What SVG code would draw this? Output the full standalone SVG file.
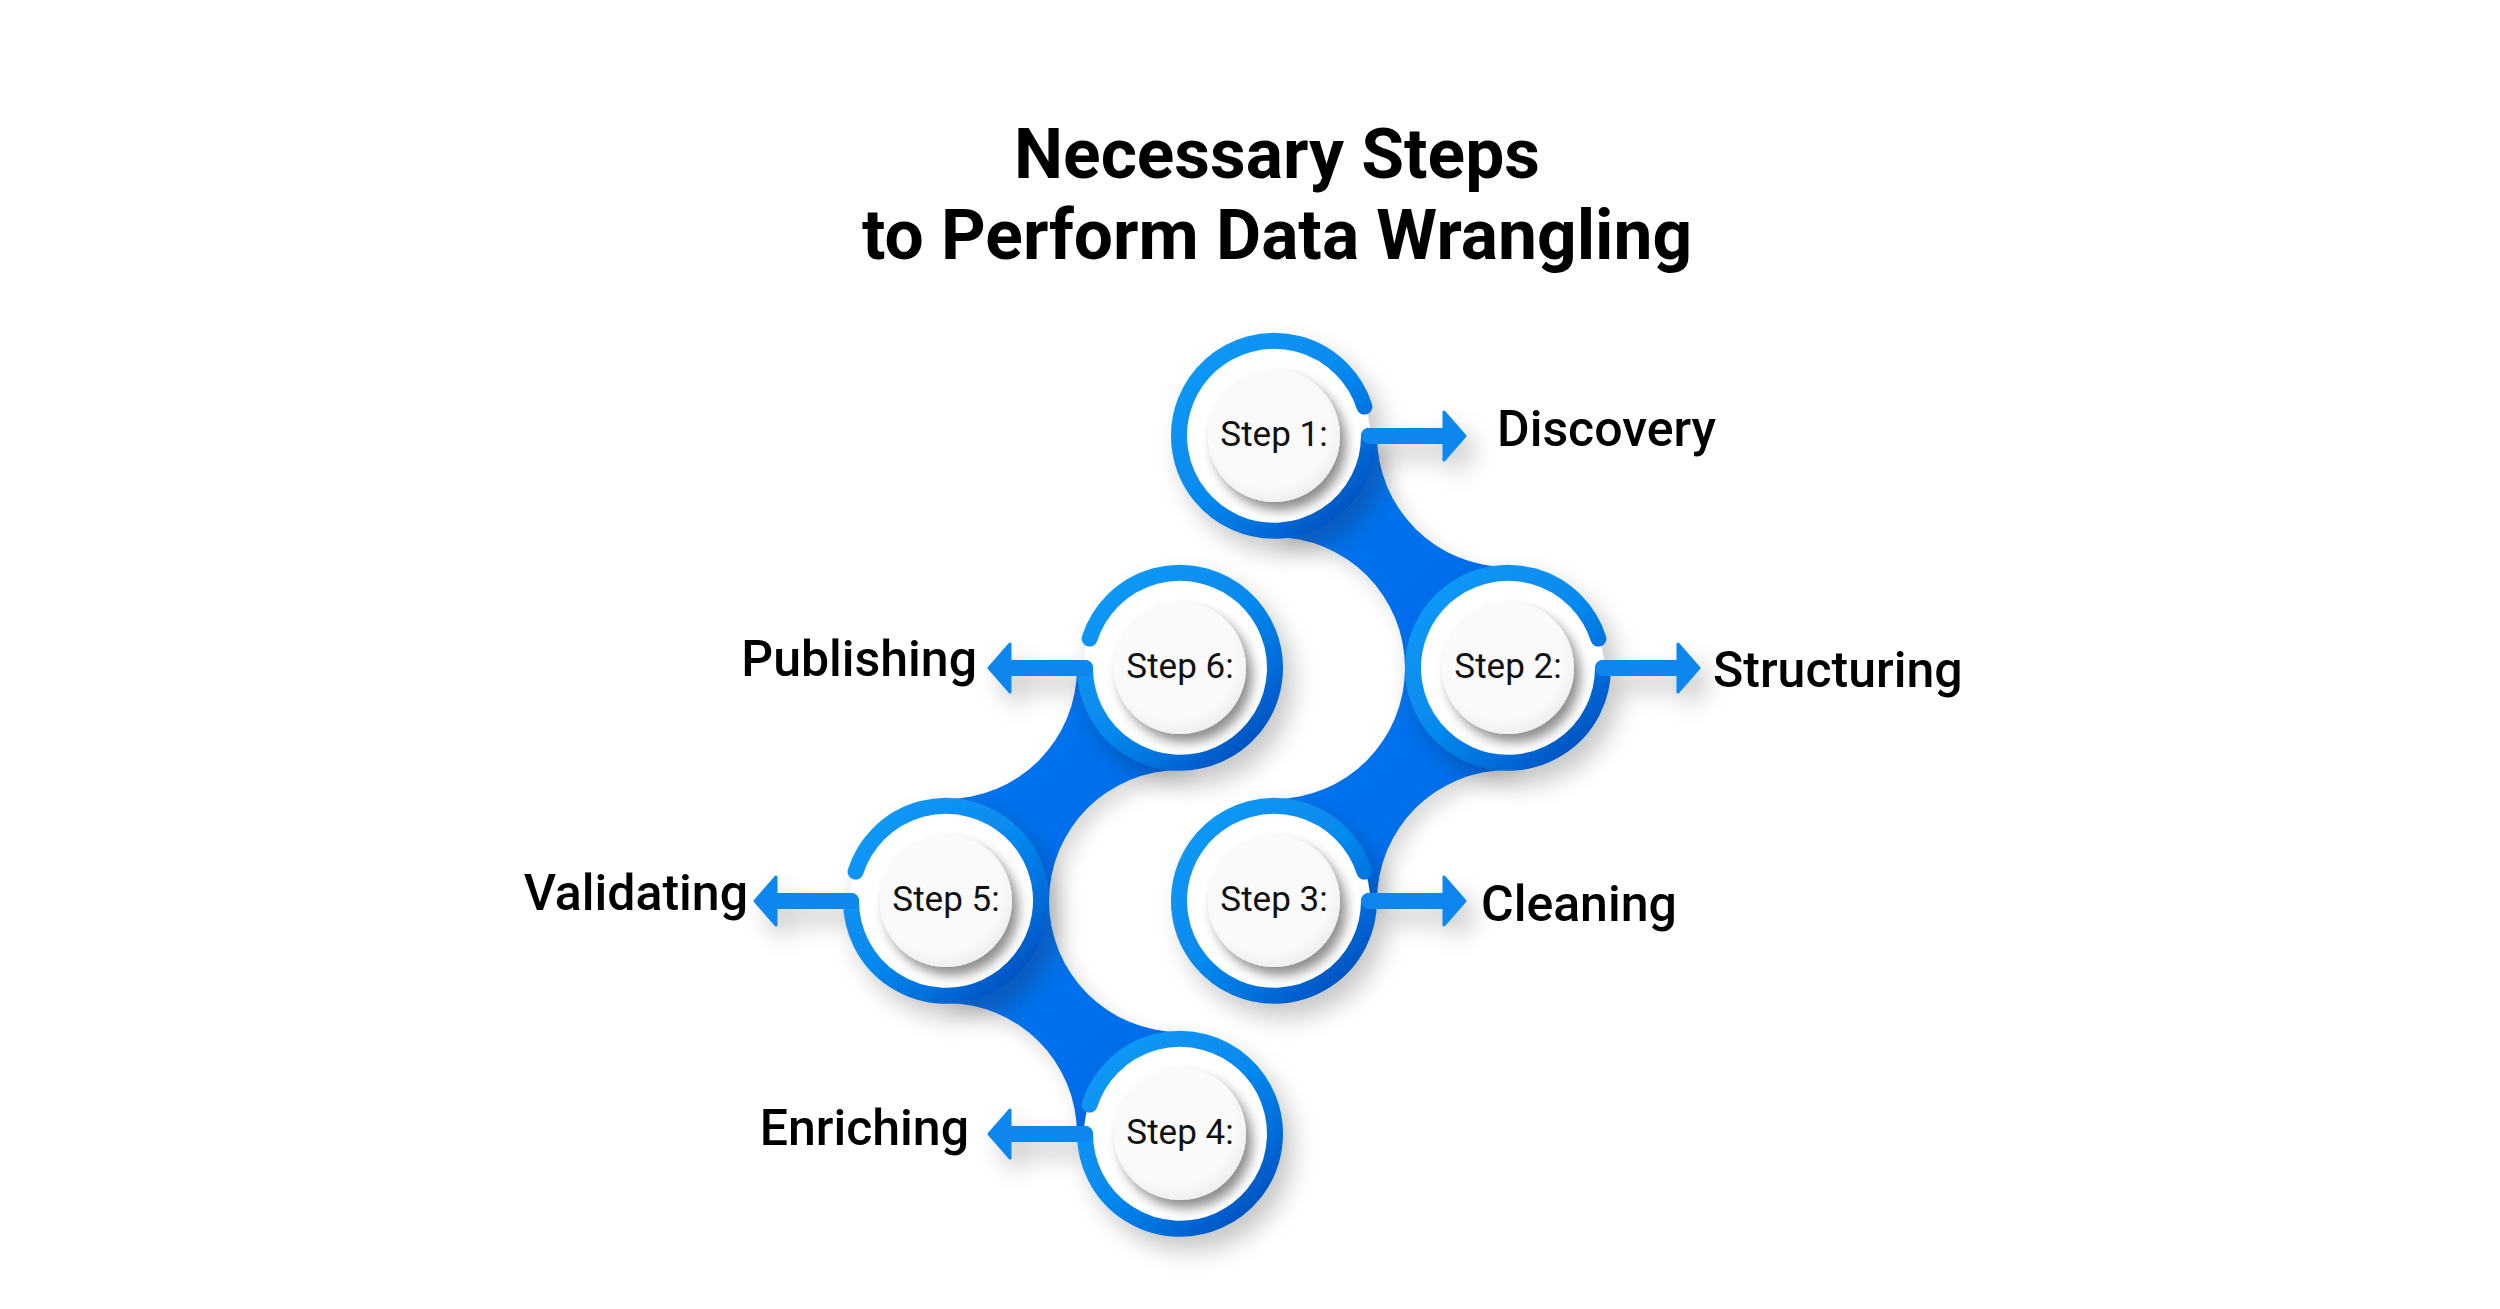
<svg xmlns="http://www.w3.org/2000/svg" width="2500" height="1309" viewBox="0 0 2500 1309">
<style>
.title{font-family:Roboto,"Liberation Sans",sans-serif;font-weight:700;font-size:69.5px;fill:#000;text-anchor:middle}
.label{font-family:Roboto,"Liberation Sans",sans-serif;font-weight:500;font-size:50px;fill:#000}
.step{font-family:Roboto,"Liberation Sans",sans-serif;font-weight:400;font-size:35px;fill:#111;text-anchor:middle}
.ring{fill:none;stroke:url(#ringGrad);stroke-width:16;stroke-linecap:round}
.shaft{fill:none;stroke:#0a86ee;stroke-width:16;stroke-linecap:round}
.head{fill:#0a86ee;stroke:#0a86ee;stroke-width:3;stroke-linejoin:round}
.bridge{fill:url(#bridgeGrad)}
</style>
<defs>
<linearGradient id="ringGrad" gradientUnits="userSpaceOnUse" x1="-70" y1="-80" x2="75" y2="80">
<stop offset="0" stop-color="#0b98f6"/>
<stop offset="0.5" stop-color="#0688ee"/>
<stop offset="0.8" stop-color="#006ad8"/>
<stop offset="1" stop-color="#0050be"/>
</linearGradient>
<linearGradient id="bridgeGrad" x1="0" y1="0" x2="1" y2="1">
<stop offset="0" stop-color="#0a78ee"/>
<stop offset="1" stop-color="#0068ea"/>
</linearGradient>
<radialGradient id="diskGrad" cx="0.45" cy="0.42" r="0.6">
<stop offset="0.78" stop-color="#fafafa"/>
<stop offset="1" stop-color="#eeeeee"/>
</radialGradient>
<filter id="nodeShadow" x="-60%" y="-60%" width="220%" height="220%">
<feDropShadow dx="10" dy="14" stdDeviation="12" flood-color="#000" flood-opacity="0.22"/>
</filter>
<filter id="diskShadow" x="-40%" y="-40%" width="180%" height="180%">
<feDropShadow dx="6" dy="8" stdDeviation="6" flood-color="#000" flood-opacity="0.45"/>
</filter>
<filter id="bridgeShadow" x="-30%" y="-30%" width="160%" height="160%">
<feDropShadow dx="8" dy="10" stdDeviation="10" flood-color="#000" flood-opacity="0.15"/>
</filter>
<g id="ringR" filter="url(#nodeShadow)">
<circle r="96" fill="#fff"/>
<path class="ring" d="M 90.4 -29.4 A 95 95 0 1 0 95 0"/>
<path class="shaft" d="M 95 0 L 172 0"/>
<path class="head" d="M 170 -24 L 191 0 L 170 24 Z"/>
</g>
<g id="ringL" filter="url(#nodeShadow)">
<circle r="96" fill="#fff"/>
<path class="ring" d="M -90.4 -29.4 A 95 95 0 1 1 -95 0"/>
<path class="shaft" d="M -95 0 L -172 0"/>
<path class="head" d="M -170 -24 L -191 0 L -170 24 Z"/>
</g>
<circle id="disk" r="66" fill="url(#diskGrad)" filter="url(#diskShadow)"/>
</defs>
<rect width="2500" height="1309" fill="#fff"/>
<g id="title">
<text class="title" x="1277" y="178">Necessary Steps</text>
<text class="title" x="1277" y="259">to Perform Data Wrangling</text>
</g>
<g id="connectors" filter="url(#bridgeShadow)">
<path class="bridge" d="M 1274 436 L 1377 436 A 131 131 0 0 0 1508 567 L 1508 668 L 1405 668 A 131 131 0 0 0 1274 537 Z"/>
<path class="bridge" d="M 1508 668 L 1508 770 A 131 131 0 0 0 1377 901 L 1274 901 L 1274 799 A 131 131 0 0 0 1405 668 Z"/>
<path class="bridge" d="M 1180 668 L 1180 770 A 131 131 0 0 0 1049 901 L 946 901 L 946 799 A 131 131 0 0 0 1077 668 Z"/>
<path class="bridge" d="M 946 901 L 1049 901 A 131 131 0 0 0 1180 1032 L 1180 1134 L 1077 1134 A 131 131 0 0 0 946 1003 Z"/>
</g>
<g id="step1" transform="translate(1274,436)">
<use href="#ringR"/><use href="#disk"/>
<text class="step" y="10">Step 1:</text>
</g>
<g id="step2" transform="translate(1508,668)">
<use href="#ringR"/><use href="#disk"/>
<text class="step" y="10">Step 2:</text>
</g>
<g id="step3" transform="translate(1274,901)">
<use href="#ringR"/><use href="#disk"/>
<text class="step" y="10">Step 3:</text>
</g>
<g id="step4" transform="translate(1180,1134)">
<use href="#ringL"/><use href="#disk"/>
<text class="step" y="10">Step 4:</text>
</g>
<g id="step5" transform="translate(946,901)">
<use href="#ringL"/><use href="#disk"/>
<text class="step" y="10">Step 5:</text>
</g>
<g id="step6" transform="translate(1180,668)">
<use href="#ringL"/><use href="#disk"/>
<text class="step" y="10">Step 6:</text>
</g>
<g id="labels">
<text class="label" x="1497" y="446">Discovery</text>
<text class="label" x="1713" y="687">Structuring</text>
<text class="label" x="1481" y="921">Cleaning</text>
<text class="label" x="977" y="676" text-anchor="end">Publishing</text>
<text class="label" x="748" y="910" text-anchor="end">Validating</text>
<text class="label" x="969" y="1145" text-anchor="end">Enriching</text>
</g>
</svg>
